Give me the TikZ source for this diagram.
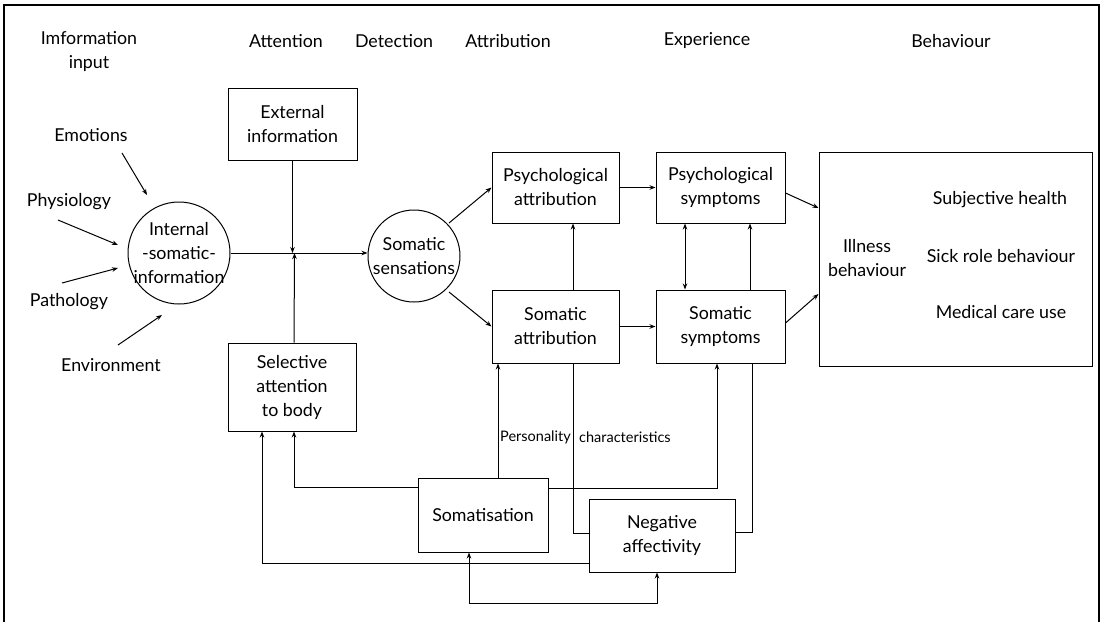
\documentclass[tikz,border=0pt]{standalone}
\usepackage{fontspec}
\setmainfont{Lato}
\usetikzlibrary{arrows.meta}
\begin{document}
\begin{tikzpicture}[x=1pt,y=-1pt,
  txt/.style={font=\fontsize{17.8}{24}\selectfont, align=center, inner sep=0pt},
  small/.style={font=\fontsize{14.5}{18}\selectfont, inner sep=0pt},
  box/.style={draw, line width=1pt, inner sep=0pt, align=center,
              font=\fontsize{17.8}{24}\selectfont},
  circ/.style={draw, circle, line width=1pt, inner sep=0pt},
  wire/.style={line width=1pt},
  arr/.style={line width=1pt, -{Stealth[length=6pt,width=4.5pt]}},
  arrboth/.style={line width=1pt, {Stealth[length=6pt,width=4.5pt]}-{Stealth[length=6pt,width=4.5pt]}}
]
% page and open frame
\useasboundingbox (0,0) rectangle (1101,622);
\draw[line width=1.1pt] (4,622) -- (4,5) -- (1099,5) -- (1099,622);

% stage headings
\node[txt] (hInput) at (89,51)  {Imformation\\input};
\node[txt] (hAtt)   at (286,41) {Attention};
\node[txt] (hDet)   at (394,41) {Detection};
\node[txt] (hAttr)  at (508,41) {Attribution};
\node[txt] (hExp)   at (707,41) {Experience};
\node[txt] (hBeh)   at (951,41) {Behaviour};

% information sources
\node[txt] (emo)  at (91,135)  {Emotions};
\node[txt] (phys) at (69,202)  {Physiology};
\node[txt] (path) at (69,302)  {Pathology};
\node[txt] (env)  at (111,365) {Environment};

% circles
\node[circ, minimum size=102pt] (int) at (179,253) {};
\node[txt] (intT) at (int.center) {Internal\\-somatic-\\information};
\node[circ, minimum size=92pt] (som) at (414,256) {};
\node[txt] (somT) at (som.center) {Somatic\\sensations};

% boxes
\node[box, minimum width=129pt, minimum height=72pt] (ext)   at (292.5,124)  {External\\information};
\node[box, minimum width=128pt, minimum height=88pt] (sel)   at (292,387)    {Selective\\attention\\to body};
\node[box, minimum width=127pt, minimum height=71pt] (pattr) at (555.5,187.5) {Psychological\\attribution};
\node[box, minimum width=127pt, minimum height=73pt] (sattr) at (555.5,326.5) {Somatic\\attribution};
\node[box, minimum width=129pt, minimum height=71pt] (psym)  at (720.5,187.5) {Psychological\\symptoms};
\node[box, minimum width=129pt, minimum height=73pt] (ssym)  at (720.5,326.5) {Somatic\\symptoms};
\node[box, minimum width=273pt, minimum height=214pt] (ill)  at (955.5,259)  {};
\node[box, minimum width=130pt, minimum height=74pt] (somat) at (483,515)    {Somatisation};
\node[box, minimum width=146pt, minimum height=73pt] (neg)   at (662,535.5)  {Negative\\affectivity};

% contents of the behaviour box
\node[txt] (illT) at (867,258)  {Illness\\behaviour};
\node[txt] (subj) at (1000,200) {Subjective health};
\node[txt] (sick) at (1001,256) {Sick role behaviour};
\node[txt] (med)  at (1001,312) {Medical care use};

% inputs into internal information
\draw[arr] ([shift={(31,18)}]emo.center)  -- ([shift={(-32,-58)}]int.center);
\draw[arr] ([shift={(-11,18)}]phys.center) -- ([shift={(-61,-8)}]int.center);
\draw[arr] ([shift={(-7,-19)}]path.center) -- ([shift={(-61,15)}]int.center);
\draw[arr] ([shift={(7,-20)}]env.center)   -- ([shift={(-17,62)}]int.center);

% attention junction
\coordinate (J) at (ext.south |- int.east);
\draw[arr] (int.east) -- (som.west |- int.east);
\draw[arr] (ext.south) -- (J);
\draw[arr] ([xshift=2pt]sel.north) -- ([xshift=2pt]J);

% detection to attribution
\draw[arr] ([shift={(35,-33)}]som.center) -- (pattr.west);
\draw[arr] ([shift={(35,36)}]som.center)  -- (sattr.west);

% attribution to experience
\draw[arr] (pattr.east) -- (psym.west);
\draw[arr] (sattr.east) -- (ssym.west);
\draw[arr] ([xshift=17.5pt]sattr.north) -- ([xshift=17.5pt]pattr.south);
\draw[arrboth] ([xshift=-35.5pt]ssym.north) -- ([xshift=-35.5pt]psym.south);
\draw[arr] ([xshift=29.5pt]ssym.north) -- ([xshift=29.5pt]psym.south);

% experience to behaviour
\draw[arr] ([yshift=-5.5pt]psym.east) -- ([yshift=51pt]ill.west);
\draw[arr] ([yshift=3.5pt]ssym.east)  -- ([yshift=-35pt]ill.west);

% feedback from personality characteristics
\draw[arr] ([xshift=15pt]somat.north) -- ([xshift=15pt]somat.north |- sattr.south);
\draw[arr] ([yshift=28pt]somat.west) -| ([xshift=2pt]sel.south);
\draw[arr] ([yshift=-27.5pt]neg.west) -| ([xshift=-30pt]sel.south);
\draw[arrboth] ([xshift=-14pt]somat.south) -- ++(0,51) -| ([xshift=-5pt]neg.south);
\draw[arr] ([yshift=27pt]somat.east) -| ([xshift=-3.5pt]ssym.south);
\draw[wire] ([xshift=17.5pt]sattr.south) |- ([yshift=2.5pt]neg.west);
\draw[wire] ([yshift=3.5pt]neg.east) -| ([xshift=31.5pt]ssym.south);

\node[small, anchor=west] (pers) at (500,437) {Personality};
\node[small, anchor=west] (char) at (579,437) {characteristics};
\end{tikzpicture}
\end{document}
